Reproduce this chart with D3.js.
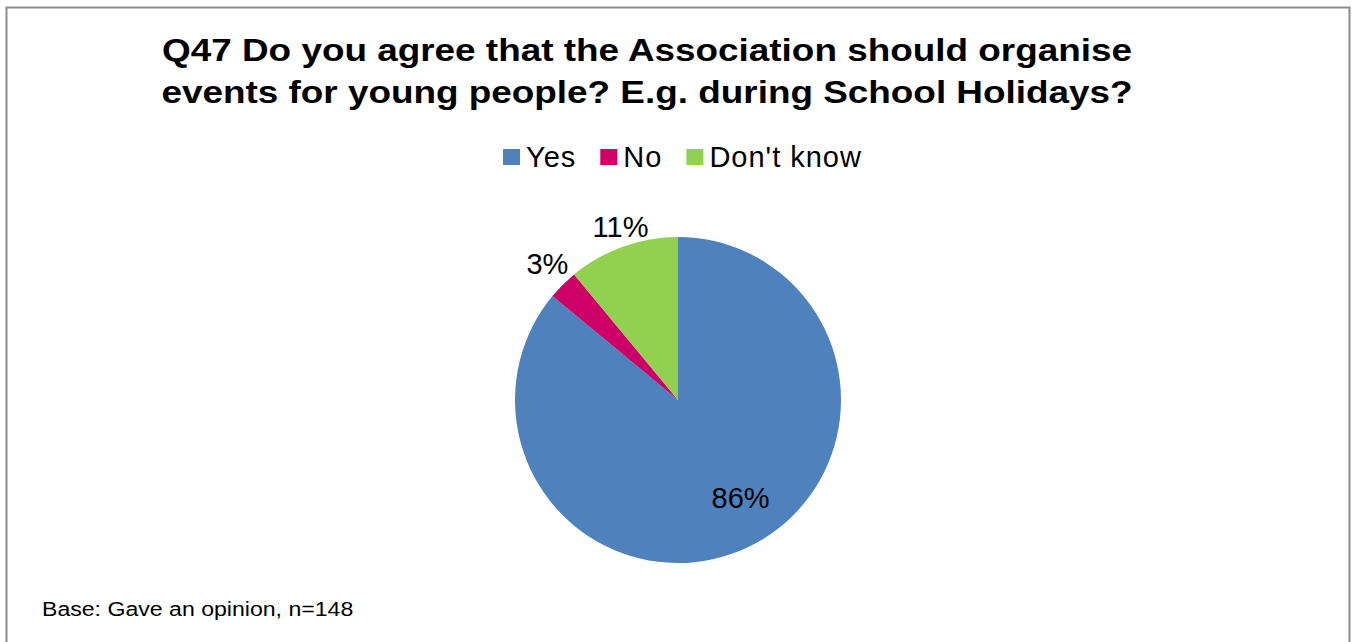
<!DOCTYPE html>
<html>
<head>
<meta charset="utf-8">
<script src="https://cdn.jsdelivr.net/npm/d3@7"></script>
<style>
  html, body { margin: 0; padding: 0; background: #fff; }
  svg { display: block; font-family: "Liberation Sans", Arial, sans-serif; }
</style>
</head>
<body>
<svg id="chart" width="1353" height="642"></svg>
<script>
// Survey answers (share of respondents, %)
const categories = ["Yes", "No", "Don't know"];
const values = [86, 3, 11];
const colors = ["#4F81BD", "#CC0066", "#92D050"];
const titleLines = [
  "Q47 Do you agree that the Association should organise",
  "events for young people? E.g. during School Holidays?"
];
const baseNote = "Base: Gave an opinion, n=148";

const svg = d3.select("#chart");

// chart frame
svg.append("rect")
  .attr("x", 6.5).attr("y", 7.5)
  .attr("width", 1343).attr("height", 660)
  .attr("fill", "#fff")
  .attr("stroke", "#8c8c8c").attr("stroke-width", 2);

// title (wide bold face)
const title = svg.append("text")
  .attr("transform", "translate(647,0) scale(1.19,1)")
  .attr("text-anchor", "middle")
  .attr("font-weight", "bold")
  .attr("font-size", 31)
  .attr("fill", "#000");
title.selectAll("tspan").data(titleLines).join("tspan")
  .attr("x", 0)
  .attr("y", (d, i) => 61 + i * 42)
  .text(d => d);

// legend
const legendItems = categories.map((c, i) => ({ name: c, color: colors[i] }));
const legend = svg.append("g").attr("font-size", 29).attr("letter-spacing", 1);
let lx = 503;
legendItems.forEach(item => {
  const g = legend.append("g").attr("transform", `translate(${lx},0)`);
  g.append("rect").attr("x", 0).attr("y", 149).attr("width", 17).attr("height", 16).attr("fill", item.color);
  const t = g.append("text").attr("x", 23).attr("y", 167).attr("fill", "#000").text(item.name);
  lx += 23 + t.node().getComputedTextLength() + 24;
});

// pie
const cx = 678, cy = 400, r = 163;
const pie = d3.pie().sort(null).value(d => d.value);
const arcs = pie(categories.map((c, i) => ({ name: c, value: values[i], color: colors[i] })));
const arc = d3.arc().innerRadius(0).outerRadius(r);

const g = svg.append("g").attr("transform", `translate(${cx},${cy})`);
g.selectAll("path").data(arcs).join("path")
  .attr("d", arc)
  .attr("fill", d => d.data.color);

// data labels: large slices inside, small slices just outside the rim
const fmt = d => d3.format(".0f")(d.data.value) + "%";
g.selectAll("text.lbl").data(arcs).join("text")
  .attr("class", "lbl")
  .attr("text-anchor", "middle")
  .attr("dominant-baseline", "central")
  .attr("font-size", 29)
  .attr("fill", "#000")
  .attr("transform", d => {
    const share = d.endAngle - d.startAngle;
    let a, rr;
    if (share > Math.PI) {
      a = (d.startAngle + d.endAngle) / 2 - 0.14;
      rr = r * 0.7;
    } else {
      a = (d.startAngle + d.endAngle) / 2 + 0.03;
      rr = r + 18 + 14 * Math.abs(Math.sin(a));
    }
    return `translate(${rr * Math.sin(a)},${-rr * Math.cos(a) + 3})`;
  })
  .text(fmt);

// base note (wide face)
svg.append("text")
  .attr("transform", "translate(42,616) scale(1.1,1)")
  .attr("font-size", 21)
  .attr("fill", "#000")
  .text(baseNote);
</script>
</body>
</html>
